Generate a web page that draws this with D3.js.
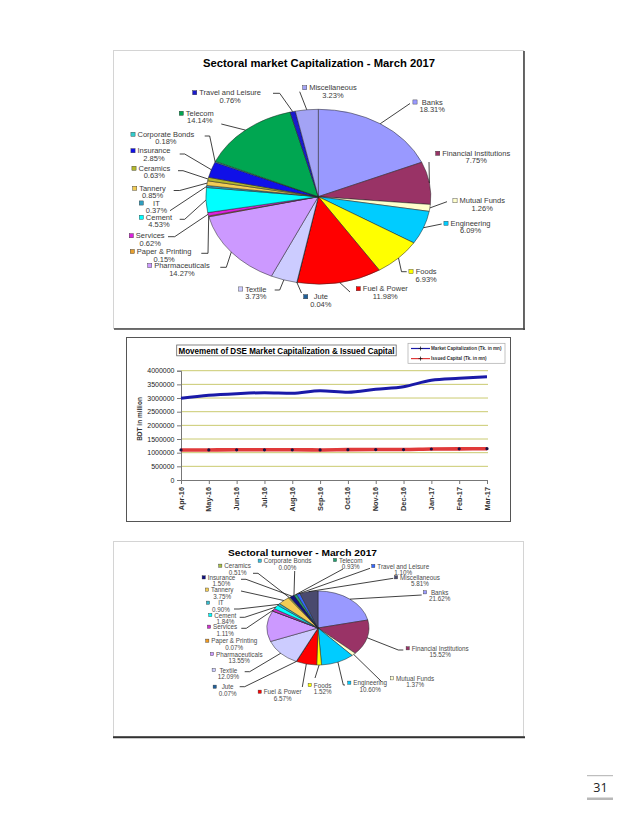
<!DOCTYPE html>
<html><head><meta charset="utf-8">
<script src="https://cdn.jsdelivr.net/npm/d3@7"></script>
<style>body{margin:0;background:#fff}svg{display:block;font-family:"Liberation Sans",Arial,sans-serif}</style>
</head><body><svg id="c" width="638" height="826"></svg>
<script>
// ---------------- data ----------------
const sectors = ["Banks","Financial Institutions","Mutual Funds","Engineering","Foods","Fuel & Power","Jute","Textile","Pharmaceuticals","Paper & Printing","Services","Cement","IT","Tannery","Ceramics","Insurance","Corporate Bonds","Telecom","Travel and Leisure","Miscellaneous"];
const capShares = [18.31,7.75,1.26,6.09,6.93,11.98,0.04,3.73,14.27,0.15,0.62,4.53,0.37,0.85,0.63,2.85,0.18,14.14,0.76,3.23];
const turnoverShares = [21.62,15.52,1.37,10.60,1.52,6.57,0.07,12.09,13.55,0.07,1.11,1.84,0.90,3.75,0.51,1.50,0.00,0.93,1.10,5.81];
const capColors = ["#9999ff","#993366","#ffffcc","#00ccff","#ffff00","#ff0000","#1f5f99","#ccccff","#cc99ff","#e8a030","#dd22dd","#00ffff","#2f9fc0","#f2cc55","#b4b82c","#1010e8","#33cccc","#00a651","#1a1acc","#a3a3f5"];
const turnColors = ["#9999ff","#993366","#ffffcc","#00ccff","#ffff00","#ff0000","#1f5f99","#ccccff","#cc99ff","#f09a20","#cc33cc","#00ffff","#33bbcc","#f2cc55","#a8c040","#101080","#33c0e0","#20a070","#3366ff","#4a4a6e"];

const months = ["Apr-16","May-16","Jun-16","Jul-16","Aug-16","Sep-16","Oct-16","Nov-16","Dec-16","Jan-17","Feb-17","Mar-17"];
const marketCap = [2990000,3100000,3160000,3195000,3175000,3265000,3210000,3320000,3415000,3650000,3720000,3780000];
const issuedCap = [1100000,1100000,1105000,1105000,1105000,1100000,1110000,1115000,1115000,1135000,1140000,1145000];
const yTicks = [0,500000,1000000,1500000,2000000,2500000,3000000,3500000,4000000];

// ---------------- layout (annotation positions) ----------------
// [markerX, markerY, leaderStartX, leaderStartY, elbowX]
const capLabelPos = [
 [415,102,410,103.5,null],[437.7,153.3,429,162,null],[455,200.7,447,201.7,null],[446,223.3,441.7,224,null],
 [411,271.5,406.7,271.7,401.5],[358.3,288.7,350,292,null],[305.7,296.7,301.5,293,null],[240.7,289,274.7,290,279.7],
 [149.7,265.5,220.3,267.3,226.3],[132.3,251.5,201.3,253.3,208],[131.3,235.7,168,236.7,174.7],[141.3,217.3,179.7,219.3,184.7],
 [141.3,203,170,210.7,null],[134.7,188.3,173.7,190.5,179.7],[134,168.3,178,170.7,183],[133,150.7,179.7,154,184.7],
 [133,134.3,204.7,136,209.7],[181.3,113.3,221.3,124,null],[194.7,92.7,273,93.3,279.7],[304.7,87.7,299.7,91.7,null]
];
const turnLabelPos = [
 [425,592.3,421.7,595,null],[407.7,648.3,403.3,650,398.3],[392,678.3,381.7,681.7,null],[349.3,682.7,345,685,343.3],
 [309.7,685,315,678,null],[259.7,691.7,302.3,687,null],[214.7,686.7,239.7,686.7,244.7],[213.7,670,244.7,671.7,249.7],
 [212,654,null,null,null],[207.3,640.7,null,null,null],[209,626.7,241.3,628.3,246.3],[210.3,615,239.7,617.3,244.7],
 [208,602.7,234,609,239],[207,589.6,241,591,null],[220.3,565.7,253,573.3,258],[203.7,577.4,241,579.3,246],
 [259.7,560.7,294.7,571,null],[335,560,343,569,null],[373.3,566,370,568.3,null],[396,577.3,393.3,578.3,null]
];

const svg = d3.select("#c");
svg.append("rect").attr("width",638).attr("height",826).attr("fill","#fff");

// ---------------- frames ----------------
function frame(x,y,w,h,col){
  svg.append("rect").attr("x",x).attr("y",y).attr("width",w).attr("height",h)
     .attr("fill","#fff").attr("stroke",col).attr("stroke-width",1);
}
frame(113.5,50.5,410,278,"#d4d4d4");
svg.append("line").attr("x1",524).attr("x2",524).attr("y1",51).attr("y2",330).attr("stroke","#444").attr("stroke-width",1.6);
svg.append("line").attr("x1",114).attr("x2",525).attr("y1",329).attr("y2",329).attr("stroke","#444").attr("stroke-width",1.6);

frame(126.5,337.5,384,184,"#555");

frame(113.5,541.5,410,195,"#d4d4d4");
svg.append("line").attr("x1",113).attr("x2",525).attr("y1",737.3).attr("y2",737.3).attr("stroke","#333").attr("stroke-width",2);

// ---------------- pie helper ----------------
function drawPie(values, colors, pos, cfg){
  const g = svg.append("g");
  const arcs = d3.pie().sort(null).value(d=>d)(values);
  const arc = d3.arc().innerRadius(0).outerRadius(cfg.rx);
  const pg = g.append("g").attr("transform",`translate(${cfg.cx},${cfg.cy}) scale(1,${cfg.ry/cfg.rx})`);
  pg.selectAll("path").data(arcs).join("path")
    .attr("d",arc).attr("fill",(d,i)=>colors[i])
    .attr("stroke","#222").attr("stroke-width",0.5).attr("vector-effect","non-scaling-stroke");
  const lg = g.append("g");
  arcs.forEach((d,i)=>{
    const p = pos[i];
    const mid = (d.startAngle+d.endAngle)/2;
    const ax = cfg.cx + cfg.rx*Math.sin(mid), ay = cfg.cy - cfg.ry*Math.cos(mid);
    if(p[2]!=null){
      const pts = [[p[2],p[3]]];
      if(p[4]!=null) pts.push([p[4],p[3]]);
      pts.push([ax,ay]);
      lg.append("path").attr("d",d3.line()(pts)).attr("fill","none").attr("stroke","#111").attr("stroke-width",0.8);
    }
    const t1 = lg.append("text").attr("font-size",cfg.fs).attr("fill",cfg.tc).attr("text-anchor","middle")
      .attr("dominant-baseline","central").text(sectors[i]);
    const t2 = lg.append("text").attr("font-size",cfg.fs).attr("fill",cfg.tc).attr("text-anchor","middle")
      .attr("dominant-baseline","central").text(values[i].toFixed(2)+"%");
    const w = Math.max(t1.node().getComputedTextLength(), t2.node().getComputedTextLength());
    const cx = p[0] + cfg.gap + w/2;
    t1.attr("x",cx).attr("y",p[1]);
    t2.attr("x",cx).attr("y",p[1]+cfg.dy);
    lg.append("rect").attr("x",p[0]-cfg.ms/2).attr("y",p[1]-cfg.ms/2).attr("width",cfg.ms).attr("height",cfg.ms)
      .attr("fill",colors[i]).attr("stroke","#333").attr("stroke-width",0.4);
  });
}

// ---------------- chart 1 ----------------
svg.append("text").attr("x",203).attr("y",63.5).attr("font-size",10).attr("font-weight","bold")
  .attr("dominant-baseline","central").attr("textLength",232).attr("lengthAdjust","spacingAndGlyphs")
  .text("Sectoral market Capitalization - March 2017");
drawPie(capShares, capColors, capLabelPos, {cx:318.3,cy:196.7,rx:112.5,ry:87.4,fs:7.5,tc:"#3a3a3a",gap:4.5,dy:7.6,ms:4.2});

// ---------------- chart 2 ----------------
const x = d3.scalePoint().domain(months).range([181,487]);
const y = d3.scaleLinear().domain([0,4000000]).range([480,370.7]);
const c2 = svg.append("g");
c2.selectAll("line.grid").data(yTicks.filter(d=>d>0)).join("line").attr("class","grid")
  .attr("x1",181).attr("x2",488).attr("y1",d=>y(d)).attr("y2",d=>y(d))
  .attr("stroke","#c4c460").attr("stroke-width",0.9);
const yAx = c2.append("g").attr("transform","translate(181,0)")
  .call(d3.axisLeft(y).tickValues(yTicks).tickFormat(d3.format("d")).tickSize(4).tickPadding(2.5));
yAx.select(".domain").attr("stroke","#777");
yAx.selectAll(".tick line").attr("stroke","#777");
yAx.selectAll("text").attr("font-size",7).attr("fill","#222").attr("font-family","Liberation Sans, Arial, sans-serif");
const xAx = c2.append("g").attr("transform","translate(0,480)")
  .call(d3.axisBottom(x).tickSize(4).tickFormat(""));
xAx.select(".domain").attr("stroke","#777");
xAx.selectAll(".tick line").attr("stroke","#777");
c2.selectAll("text.xl").data(months).join("text").attr("class","xl")
  .attr("transform",d=>`translate(${x(d)+2.5},487) rotate(-90)`)
  .attr("text-anchor","end").attr("font-size",7.3).attr("font-weight","bold").attr("fill","#333").text(d=>d);
c2.append("text").attr("transform","translate(141.5,419) rotate(-90)").attr("text-anchor","middle")
  .attr("font-size",6.5).attr("font-weight","bold").attr("fill","#333").text("BDT in million");

const line = d3.line().x((d,i)=>x(months[i])).y(d=>y(d)).curve(d3.curveMonotoneX);
c2.append("path").attr("d",line(issuedCap)).attr("fill","none").attr("stroke","#e03a3a").attr("stroke-width",3.6);
c2.selectAll("circle.ic").data(issuedCap).join("circle").attr("class","ic")
  .attr("cx",(d,i)=>x(months[i])).attr("cy",d=>y(d)).attr("r",1.6).attr("fill","#1a1040");
c2.append("path").attr("d",line(marketCap)).attr("fill","none").attr("stroke","#1a1aa8").attr("stroke-width",3);

// title box
c2.append("rect").attr("x",176.7).attr("y",345).attr("width",219.5).attr("height",10.8)
  .attr("fill","#fff").attr("stroke","#666").attr("stroke-width",0.8);
c2.append("text").attr("x",178.5).attr("y",350.6).attr("dominant-baseline","central").attr("font-size",8.6)
  .attr("font-weight","bold").attr("textLength",216).attr("lengthAdjust","spacingAndGlyphs")
  .text("Movement of DSE Market Capitalization & Issued Capital");
// legend
c2.append("rect").attr("x",408).attr("y",343.3).attr("width",97).attr("height",20)
  .attr("fill","#fff").attr("stroke","#aaa").attr("stroke-width",0.7);
const legItems = [["Market Capitalization (Tk. in mn)","#1a1aa8",348.5],["Issued Capital (Tk. in mn)","#e03a3a",358.6]];
legItems.forEach(l=>{
  c2.append("line").attr("x1",411).attr("x2",430).attr("y1",l[2]).attr("y2",l[2]).attr("stroke",l[1]).attr("stroke-width",1.2);
  c2.append("path").attr("d",`M420.5,${l[2]-2}V${l[2]+2}M418.5,${l[2]}H422.5`).attr("stroke","#111").attr("stroke-width",0.7);
  c2.append("text").attr("x",431).attr("y",l[2]).attr("dominant-baseline","central").attr("font-size",4.6)
    .attr("font-weight","bold").attr("fill","#333").text(l[0]);
});

// ---------------- chart 3 ----------------
svg.append("text").attr("x",228).attr("y",553.3).attr("font-size",9).attr("font-weight","bold")
  .attr("dominant-baseline","central").attr("textLength",149).attr("lengthAdjust","spacingAndGlyphs")
  .text("Sectoral turnover - March 2017");
drawPie(turnoverShares, turnColors, turnLabelPos, {cx:318,cy:628,rx:51,ry:37,fs:6.3,tc:"#4a4a4a",gap:4,dy:6.4,ms:3.2});

// ---------------- page number ----------------
svg.append("line").attr("x1",587).attr("x2",613).attr("y1",775.7).attr("y2",775.7).attr("stroke","#999").attr("stroke-width",0.8);
svg.append("text").attr("x",600.5).attr("y",787).attr("text-anchor","middle").attr("dominant-baseline","central")
  .attr("font-size",12.5).attr("fill","#222").attr("font-family","Open Sans, Liberation Sans, sans-serif").text("31");
svg.append("rect").attr("x",587).attr("y",797.5).attr("width",26).attr("height",2.5).attr("fill","#b8b8b8");
</script></body></html>
